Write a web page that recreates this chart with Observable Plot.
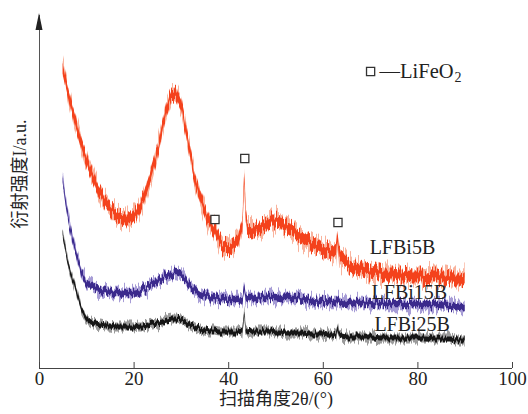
<!DOCTYPE html>
<html>
<head>
<meta charset="utf-8">
<script src="https://cdn.jsdelivr.net/npm/d3@7"></script>
<script src="https://cdn.jsdelivr.net/npm/@observablehq/plot@0.6"></script>
<style>
  html, body { margin: 0; padding: 0; background: #fff; }
  svg { display: block; }
</style>
</head>
<body>
<div id="chart"></div>
<script>
// 2θ positions (degrees) at which the traces were read
const angles = [5,5.5,6,6.5,7,8,9,10,11,12,13,14,15,16,17,18,19,20,21,22,23,24,25,26,27,28,29,30,31,32,33,34,35,36,37,38,39,40,41,42,43,43.4,43.7,44,45,46,47,48,49,50,51,52,53,54,55,56,57,58,59,60,61,62,62.8,63.1,63.5,64,65,66,67,68,69,70,71,72,73,74,75,76,77,78,79,80,81,82,83,84,85,86,87,88,89,90];

// Intensities (a.u.)
const lfbi5b = [300,289,278,268,258,241,223,208,195,183,173,165,159,154,151,149,149,152,158,168,182,198,216,238,260,273,275,265,240,213,188,172,158,146,138,128,122,121,123,128,143,192,150,140,138,140,142,144,146,146,145,143,140,136,132,129,126,123,121,119,117,114,118,133,112,110,106,103,101,100,98,97,96,95,94,94,94,93,93,94,93,93,93,92,93,93,92,92,91,91,91,90];
const lfbi15b = [190,170,155,142,130,112,96,87,82,79,78,77,76,76,76,75,75,75,76,78,81,84,87,90,93,95,95,93,88,82,78,74,72,71,70,69,69,68,68,68,69,80,70,70,70,70,71,71,71,71,70,70,70,70,70,69,68,68,67,67,66,66,66,68,66,66,65,65,65,65,65,65,64,64,64,64,64,64,64,64,64,64,63,63,63,63,63,62,62,62,61,61];
const lfbi25b = [135,122,108,98,90,75,59,50,46,44,43,42,42,41,41,41,41,41,42,42,43,44,45,46,48,49,49,48,46,43,41,39,38,37,37,36,36,36,36,36,37,56,38,36,37,37,37,37,37,36,36,35,35,35,35,35,34,34,34,34,33,33,34,41,33,32,31,31,31,31,31,31,31,30,30,30,30,30,30,30,30,30,30,30,29,29,29,29,29,28,28,28];

const seriesNames = ["LFBi5B", "LFBi15B", "LFBi25B"];
const seriesColors = ["#f4431f", "#3b2a8c", "#141414"];
const seriesHalo = ["#f79a7c", "#8a7cc8", "#7a7a7a"];
const seriesSpread = [5.5, 3.2, 2.4];
const seriesNoise = [22, 14, 9];

// LiFeO2 reflections marked with open squares
const markAngles = [37.1, 43.4, 63.1];
const markIntensity = [149, 210, 146];

// label anchors (angle, intensity)
const labelAngles = [69.8, 70.2, 70.8];
const labelIntensity = [121, 76, 44];

const legendAngle = [70];
const legendIntensity = [297];
const legendText = "—LiFeO";
const legendSub = "2";

const xTicks = [0, 20, 40, 60, 80, 100];
const xLabel = "扫描角度2θ/(°)";
const yLabel = "衍射强度I/a.u.";

const allSeries = [lfbi5b, lfbi15b, lfbi25b];
const rows = [];
allSeries.forEach((vals, s) => {
  vals.forEach((v, i) => rows.push({series: seriesNames[s], s, t: angles[i], v}));
});
const marks = markAngles.map((t, i) => ({t, v: markIntensity[i]}));
const labels = seriesNames.map((n, i) => ({n, t: labelAngles[i], v: labelIntensity[i]}));

const serif = "'Liberation Serif', 'Times New Roman', serif";
const mixed = "'Liberation Serif', 'Noto Sans CJK SC', serif";

const bandMarks = [];
allSeries.forEach((_, s) => {
  const data = rows.filter(d => d.s === s);
  bandMarks.push(Plot.areaY(data, {x: "t", y1: d => d.v - seriesSpread[s] - 2, y2: d => d.v + seriesSpread[s] + 2, fill: seriesHalo[s], fillOpacity: 0.75}));
  bandMarks.push(Plot.areaY(data, {x: "t", y1: d => d.v - seriesSpread[s], y2: d => d.v + seriesSpread[s], fill: seriesColors[s]}));
});

const arrow = (index, scales, values, dimensions) => {
  const x0 = scales.x(0);
  const yt = dimensions.marginTop;
  return d3.create("svg:path")
    .attr("d", `M${x0},${yt - 2}L${x0 - 3.5},${yt + 15}L${x0 + 3.5},${yt + 15}Z`)
    .attr("fill", "#222").node();
};

const chart = Plot.plot({
  width: 528,
  height: 414,
  marginTop: 15,
  marginBottom: 46,
  marginLeft: 39,
  marginRight: 16,
  style: {fontFamily: serif, background: "#fff"},
  x: {domain: [0, 100]},
  y: {domain: [0, 353]},
  marks: [
    ...bandMarks,
    Plot.dot(marks, {x: "t", y: "v", symbol: "square", r: 4.6, stroke: "#333", strokeWidth: 1.3, fill: "white"}),
    Plot.text(labels, {x: "t", y: "v", text: "n", textAnchor: "start", lineAnchor: "middle", fontSize: 20, fill: "#222", fontFamily: serif}),
    Plot.dot(legendAngle, {x: d => d, y: () => legendIntensity[0], symbol: "square", r: 4.6, stroke: "#333", strokeWidth: 1.3, fill: "white"}),
    Plot.text(legendAngle, {x: d => d, y: () => legendIntensity[0], text: () => legendText, textAnchor: "start", lineAnchor: "middle", dx: 9, fontSize: 20.5, fill: "#222", fontFamily: serif}),
    Plot.text(legendAngle, {x: d => d, y: () => legendIntensity[0], text: () => legendSub, textAnchor: "start", lineAnchor: "middle", dx: 84, dy: 6, fontSize: 14, fill: "#222", fontFamily: serif}),
    Plot.ruleY([0], {stroke: "#444", strokeWidth: 1}),
    Plot.ruleX([0], {stroke: "#555", strokeWidth: 1}),
    arrow,
    Plot.axisX({ticks: xTicks, tickSize: -6, tickPadding: 9, fontSize: 19, fontFamily: serif, label: null, stroke: "#444", fill: "#222"}),
    Plot.axisY({ticks: [], label: null}),
    Plot.text([xLabel], {frameAnchor: "bottom", dy: 36, text: d => d, fontSize: 18, fontFamily: mixed, fill: "#222"}),
    Plot.text([yLabel], {frameAnchor: "left", textAnchor: "middle", dx: -19, dy: -18, rotate: -90, text: d => d, fontSize: 18, fontFamily: mixed, fill: "#222"})
  ]
});
document.getElementById("chart").appendChild(chart);

// noisy rendering texture for the diffraction traces (style only)
const svg = d3.select(chart);
const defs = svg.insert("defs", ":first-child");
seriesNoise.forEach((sc, s) => {
  [sc * 1.5, sc].forEach((scale, k) => {
    const f = defs.append("filter").attr("id", `noise-${s}-${k}`)
      .attr("x", "-5%").attr("y", "-30%").attr("width", "110%").attr("height", "160%");
    f.append("feTurbulence").attr("type", "fractalNoise").attr("baseFrequency", "0.55 0.001")
      .attr("numOctaves", 2).attr("seed", 3 + s * 7 + k).attr("result", "t");
    const ct = f.append("feComponentTransfer").attr("in", "t").attr("result", "t2");
    ct.append("feFuncR").attr("type", "linear").attr("slope", 0).attr("intercept", 0.5);
    f.append("feDisplacementMap").attr("in", "SourceGraphic").attr("in2", "t2")
      .attr("scale", scale).attr("xChannelSelector", "R").attr("yChannelSelector", "G");
  });
});
svg.selectAll("g[aria-label='area']").each(function(_, i) {
  const s = Math.floor(i / 2), k = i % 2;
  d3.select(this).attr("filter", `url(#noise-${s}-${k})`);
});
</script>
</body>
</html>
